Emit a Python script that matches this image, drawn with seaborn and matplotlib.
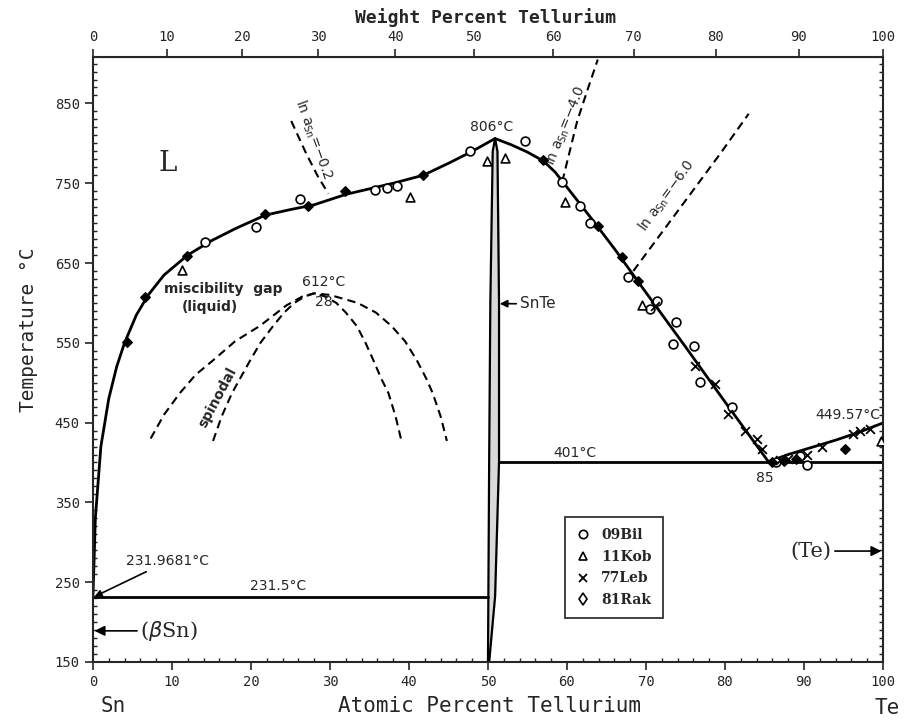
import matplotlib
matplotlib.use("Agg")
import matplotlib.pyplot as plt
from matplotlib.lines import Line2D
from matplotlib.ticker import MultipleLocator
import seaborn as sns

# liquidus, Sn side up to the SnTe congruent maximum (at% Te, deg C)
liq_sn_x = [0, 0.3, 1, 2, 3, 4, 5.5, 7, 9, 12, 15, 18, 21.8, 25, 28, 32, 35, 38, 41.8, 45, 48, 50.9]
liq_sn_t = [231.97, 330, 420, 480, 520, 550, 585, 610, 635, 660, 678, 693, 710, 717, 723, 736, 743, 750, 760, 775, 790, 806]
# liquidus from SnTe maximum down to the eutectic
liq_mid_x = [50.9, 53, 55, 57, 58.5, 60, 63, 66, 70, 75, 80, 85.5]
liq_mid_t = [806, 798, 789, 778, 764, 745, 707, 668, 613, 545, 476, 401]
# liquidus, Te side
liq_te_x = [85.5, 88, 91, 94, 97, 100]
liq_te_t = [401, 410, 419, 428, 438, 449.57]

# SnTe phase field
snte_t = [150, 232, 401, 600, 790, 806]
snte_left = [50.0, 50.05, 50.15, 50.3, 50.6, 50.9]
snte_right = [50.15, 50.9, 51.4, 51.4, 51.2, 50.9]

# invariant lines
sn_eut_x = [0, 50.05]
sn_eut_t = [231.5, 231.5]
te_eut_x = [51.4, 100]
te_eut_t = [401, 401]

# metastable liquid miscibility gap
bin_x = [7.3, 9, 11, 13, 15.2, 18, 21.1, 24.5, 26.5, 28, 30, 33.5, 35.8, 37.8, 39.5, 41, 42.2, 43, 44, 44.8]
bin_t = [430, 460, 487, 510, 528, 552, 571, 597, 608, 612, 610, 600, 588, 571, 552, 528, 505, 487, 458, 427]
spin_x = [15.2, 16.3, 17.6, 19.9, 21.2, 22.8, 24.2, 25.5, 26.8, 28, 29.4, 30.8, 32, 33.4, 34.5, 35.5, 36.5, 37.4, 38.3, 39.1]
spin_t = [427, 458, 487, 528, 550, 571, 588, 600, 608, 612, 608, 600, 588, 571, 550, 528, 505, 487, 458, 425]

# iso-activity lines
a02_x = [25.1, 27.0, 28.5, 29.8]
a02_t = [828, 787, 758, 737]
a40_x = [59.4, 61.3, 62.7, 63.9]
a40_t = [752, 828, 870, 905]
a60_x = [68.4, 79.4, 83.0]
a60_t = [640, 787, 837]

# experimental points
bil_x = [14.2, 20.7, 26.2, 35.7, 37.2, 38.5, 47.7, 54.7, 59.4, 61.6, 62.9, 67.7, 70.5, 71.4, 73.8, 73.4, 76.1, 76.8, 80.9, 89.5, 90.4, 86.5]
bil_t = [676, 695, 730, 742, 744, 747, 790, 803, 752, 722, 700, 632, 593, 603, 576, 549, 546, 501, 470, 408, 397, 400]
kob_x = [11.3, 40.1, 49.9, 52.2, 59.7, 69.5, 99.8]
kob_t = [641, 733, 778, 781, 727, 597, 427]
leb_x = [71.1, 76.2, 78.7, 80.4, 82.5, 84.0, 84.7, 87.0, 88.0, 90.4, 92.3, 96.2, 97.1, 98.4]
leb_t = [596, 521, 498, 461, 439, 429, 417, 403, 404, 410, 419, 436, 439, 442]
rak_x = [4.3, 6.6, 11.9, 21.8, 27.2, 31.9, 41.8, 57.0, 63.9, 67.0, 69.0, 86.0, 87.5, 89.0, 95.2]
rak_t = [551, 608, 659, 712, 721, 740, 760, 779, 697, 658, 627, 401, 402, 404, 417]

M_SN = 118.71
M_TE = 127.60


def at_to_wt(a):
    return a * M_TE / (a * M_TE + (100 - a) * M_SN) * 100


def wt_to_at(w):
    return (w / M_TE) / (w / M_TE + (100 - w) / M_SN) * 100


sns.set_style("ticks")
plt.rcParams['font.family'] = ['DejaVu Sans']
mono = 'DejaVu Sans Mono'
serif = 'DejaVu Serif'

fig = plt.figure(figsize=(9.07, 7.2), dpi=100)
ax = fig.add_axes([0.1025, 0.0806, 0.871, 0.840])

# SnTe field
ax.fill_betweenx(snte_t, snte_left, snte_right, color='0.85', zorder=1)
for xs, ts in [(snte_left, snte_t), (snte_right, snte_t)]:
    sns.lineplot(x=xs, y=ts, sort=False, estimator=None, color='black', lw=1.6, ax=ax)

# liquidus and invariants
for xs, ts in [(liq_sn_x, liq_sn_t), (liq_mid_x, liq_mid_t), (liq_te_x, liq_te_t),
               (sn_eut_x, sn_eut_t), (te_eut_x, te_eut_t)]:
    sns.lineplot(x=xs, y=ts, sort=False, estimator=None, color='black', lw=2, ax=ax)

# dashed curves
for xs, ts in [(bin_x, bin_t), (spin_x, spin_t), (a02_x, a02_t), (a40_x, a40_t), (a60_x, a60_t)]:
    sns.lineplot(x=xs, y=ts, sort=False, estimator=None, color='black', lw=1.5,
                 linestyle=(0, (4, 2.5)), ax=ax)

# data points
sns.scatterplot(x=bil_x, y=bil_t, marker='o', s=40, facecolor='white', edgecolor='black', linewidth=1.2, ax=ax, zorder=5)
sns.scatterplot(x=kob_x, y=kob_t, marker='^', s=40, facecolor='white', edgecolor='black', linewidth=1.2, ax=ax, zorder=5)
sns.scatterplot(x=leb_x, y=leb_t, marker='x', s=40, color='black', linewidth=1.3, ax=ax, zorder=5)
sns.scatterplot(x=rak_x, y=rak_t, marker='D', s=22, facecolor='black', edgecolor='black', linewidth=1.2, ax=ax, zorder=5)

ax.set_xlim(0, 100)
ax.set_ylim(150, 908)
ax.set_xticks(range(0, 101, 10))
ax.set_yticks(range(150, 851, 100))
ax.xaxis.set_minor_locator(MultipleLocator(2))
ax.yaxis.set_minor_locator(MultipleLocator(10))
ax.tick_params(which='major', direction='out', length=6, width=1.2, labelsize=10)
ax.tick_params(which='minor', direction='in', length=3, width=1)
ax.tick_params(axis='y', which='minor', right=True)
for lab in ax.get_xticklabels() + ax.get_yticklabels():
    lab.set_family(mono)
for sp in ax.spines.values():
    sp.set_linewidth(1.5)
    sp.set_visible(True)
ax.set_xlabel('')
ax.set_ylabel('')

top = ax.secondary_xaxis('top', functions=(at_to_wt, wt_to_at))
top.set_xticks(range(0, 101, 10))
top.tick_params(direction='out', length=6, width=1.2, labelsize=10)
for lab in top.get_xticklabels():
    lab.set_family(mono)

fig.text(0.535, 0.975, 'Weight Percent Tellurium', ha='center', va='center', fontsize=13, family=mono, fontweight='bold')
fig.text(0.540, 0.020, 'Atomic Percent Tellurium', ha='center', va='center', fontsize=15, family=mono)
fig.text(0.125, 0.020, 'Sn', ha='center', va='center', fontsize=15, family=mono)
fig.text(0.978, 0.016, 'Te', ha='center', va='center', fontsize=15, family=mono)
fig.text(0.031, 0.542, 'Temperature \u00b0C', ha='center', va='center', rotation=90, fontsize=14, family=mono)

# labels on the diagram
ax.text(9.5, 775, 'L', fontsize=20, family=serif, ha='center', va='center')
ax.text(50.5, 820, '806\u00b0C', fontsize=10, ha='center', va='center')
ax.text(29.2, 626, '612\u00b0C', fontsize=10, ha='center', va='center')
ax.text(29.2, 601, '28', fontsize=10, ha='center', va='center')
ax.text(16.5, 618, 'miscibility  gap', fontsize=10, ha='center', va='center', fontweight='bold')
ax.text(14.8, 595, '(liquid)', fontsize=10, ha='center', va='center', fontweight='bold')
ax.text(15.8, 482, 'spinodal', fontsize=10, ha='center', va='center', rotation=62, fontweight='bold')
ax.text(27.9, 805, r'ln a$_{\rm Sn}$=$-$0.2', fontsize=10, ha='center', va='center', rotation=-70)
ax.text(59.8, 822, r'ln a$_{\rm Sn}$=$-$4.0', fontsize=10, ha='center', va='center', rotation=68)
ax.text(72.6, 735, r'ln a$_{\rm Sn}$=$-$6.0', fontsize=10, ha='center', va='center', rotation=54)
ax.text(61.0, 412, '401\u00b0C', fontsize=10, ha='center', va='center')
ax.text(85.0, 381, '85', fontsize=10, ha='center', va='center')
ax.text(95.5, 460, '449.57\u00b0C', fontsize=10, ha='center', va='center')
ax.text(23.5, 245, '231.5\u00b0C', fontsize=10, ha='center', va='center')
ax.annotate('231.9681\u00b0C', xy=(0.2, 232), xytext=(4.2, 276), fontsize=10, ha='left', va='center',
            arrowprops=dict(arrowstyle='-|>', color='black', lw=1.2, shrinkA=0, shrinkB=0))
ax.annotate(r'($\beta$Sn)', xy=(0.2, 189), xytext=(6.0, 189), fontsize=15, family=serif, ha='left', va='center',
            arrowprops=dict(arrowstyle='-|>', color='black', lw=1.2, shrinkA=0, shrinkB=0))
ax.annotate('(Te)', xy=(99.8, 289), xytext=(93.5, 289), fontsize=15, family=serif, ha='right', va='center',
            arrowprops=dict(arrowstyle='-|>', color='black', lw=1.2, shrinkA=0, shrinkB=0))
ax.annotate('SnTe', xy=(51.5, 599), xytext=(54.0, 599), fontsize=11, ha='left', va='center',
            arrowprops=dict(arrowstyle='-|>', color='black', lw=1.2, shrinkA=0, shrinkB=0))

handles = [
    Line2D([], [], ls='', marker='o', mfc='white', mec='black', ms=6, mew=1.2),
    Line2D([], [], ls='', marker='^', mfc='white', mec='black', ms=6, mew=1.2),
    Line2D([], [], ls='', marker='x', color='black', ms=6, mew=1.3),
    Line2D([], [], ls='', marker='d', mfc='white', mec='black', ms=6, mew=1.2),
]
leg = ax.legend(handles, ['09Bil', '11Kob', '77Leb', '81Rak'], loc='upper left',
                bbox_to_anchor=(0.589, 0.251), frameon=True, fancybox=False,
                prop={'family': serif, 'size': 10, 'weight': 'bold'},
                labelspacing=0.55, handletextpad=0.8, borderpad=0.8, handlelength=1.0)
leg.get_frame().set_edgecolor('black')
leg.get_frame().set_linewidth(1.3)

fig.savefig('out.png', dpi=100)
